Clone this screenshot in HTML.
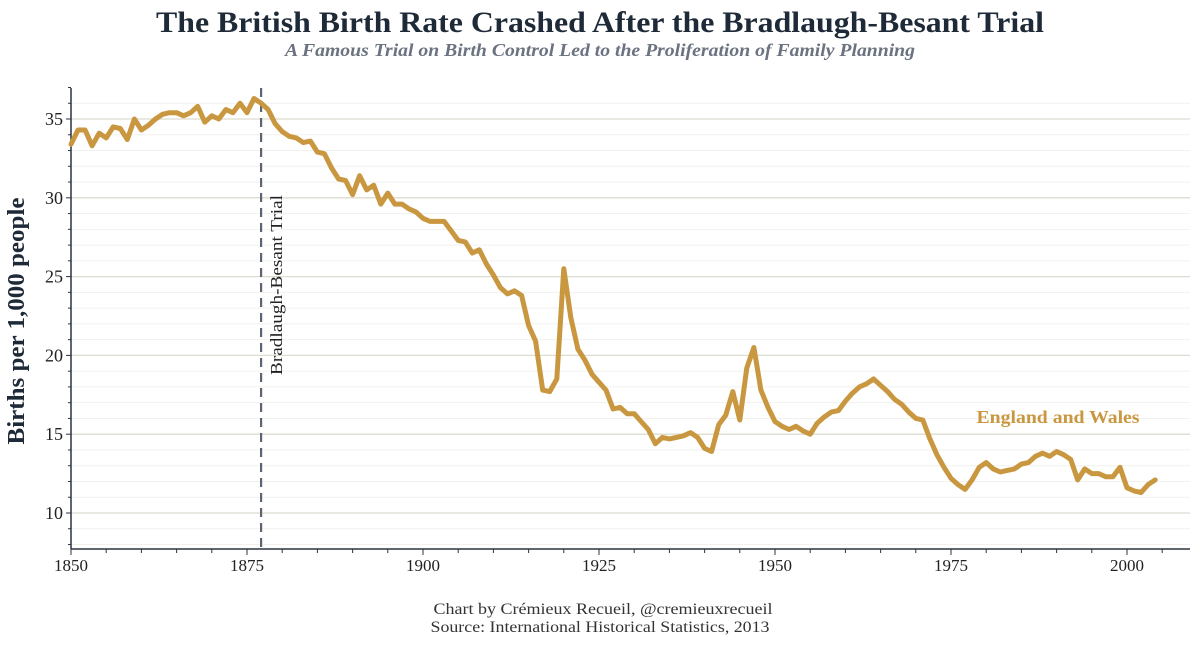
<!DOCTYPE html>
<html><head><meta charset="utf-8"><style>
html,body{margin:0;padding:0;background:#fff;}
svg{display:block;font-family:"Liberation Serif",serif;}
</style></head><body>
<svg id="chart" width="1200" height="645" viewBox="0 0 1200 645" xmlns="http://www.w3.org/2000/svg">
<text x="600" y="32" text-anchor="middle" font-size="30" font-weight="bold" fill="#1e2a38" textLength="888" lengthAdjust="spacingAndGlyphs">The British Birth Rate Crashed After the Bradlaugh-Besant Trial</text>
<text x="600" y="56" text-anchor="middle" font-size="18" font-style="italic" font-weight="bold" fill="#6b7280" textLength="630" lengthAdjust="spacingAndGlyphs">A Famous Trial on Birth Control Led to the Proliferation of Family Planning</text>
<g id="grid"></g>
<g id="axes"></g>
<g id="marks"></g>
<text x="0" y="0" transform="translate(24,321) rotate(-90)" text-anchor="middle" font-size="24" font-weight="bold" fill="#1e2a38" textLength="247" lengthAdjust="spacingAndGlyphs">Births per 1,000 people</text>
<text x="603" y="614" text-anchor="middle" font-size="16" fill="#333" textLength="339" lengthAdjust="spacingAndGlyphs">Chart by Crémieux Recueil, @cremieuxrecueil</text>
<text x="600" y="632" text-anchor="middle" font-size="16" fill="#333" textLength="339" lengthAdjust="spacingAndGlyphs">Source: International Historical Statistics, 2013</text>
</svg>
<script>
const startYear = 1850;
const birthRates = [33.4,34.3,34.3,33.3,34.1,33.8,34.5,34.4,33.7,35.0,
34.3,34.6,35.0,35.3,35.4,35.4,35.2,35.4,35.8,34.8,
35.2,35.0,35.6,35.4,36.0,35.4,36.3,36.0,35.6,34.7,
34.2,33.9,33.8,33.5,33.6,32.9,32.8,31.9,31.2,31.1,
30.2,31.4,30.5,30.8,29.6,30.3,29.6,29.6,29.3,29.1,
28.7,28.5,28.5,28.5,27.9,27.3,27.2,26.5,26.7,25.8,
25.1,24.3,23.9,24.1,23.8,21.9,20.9,17.8,17.7,18.5,
25.5,22.4,20.4,19.7,18.8,18.3,17.8,16.6,16.7,16.3,
16.3,15.8,15.3,14.4,14.8,14.7,14.8,14.9,15.1,14.8,
14.1,13.9,15.6,16.2,17.7,15.9,19.2,20.5,17.8,16.7,
15.8,15.5,15.3,15.5,15.2,15.0,15.7,16.1,16.4,16.5,
17.1,17.6,18.0,18.2,18.5,18.1,17.7,17.2,16.9,16.4,
16.0,15.9,14.7,13.7,12.9,12.2,11.8,11.5,12.1,12.9,
13.2,12.8,12.6,12.7,12.8,13.1,13.2,13.6,13.8,13.6,
13.9,13.7,13.4,12.1,12.8,12.5,12.5,12.3,12.3,12.9,
11.6,11.4,11.3,11.8,12.1];
const xTicks = [1850,1875,1900,1925,1950,1975,2000];
const yTicks = [10,15,20,25,30,35];
const trialYear = 1877;
const seriesLabel = "England and Wales";

const NS="http://www.w3.org/2000/svg";
const L=71,R=1190,T=88,B=549;
const x=v=>L+(v-1850)*7.04;
const y=v=>513-(v-10)*15.76;
function mk(tag,attrs,parent){const e=document.createElementNS(NS,tag);for(const k in attrs)e.setAttribute(k,attrs[k]);parent.appendChild(e);return e;}
const grid=document.getElementById('grid'),axes=document.getElementById('axes'),marks=document.getElementById('marks');
for(let v=8;v<=37;v++){
  if(y(v)<T||y(v)>B)continue;
  const major=yTicks.includes(v);
  const g=mk('line',{x1:L,x2:R,y1:y(v),y2:y(v),stroke:major?'#dcdccf':'#f1f1ee','stroke-width':major?1.3:1},grid);
  
  
}
let a=mk('line',{x1:L,x2:L,y1:T,y2:B,stroke:'#2b3440','stroke-width':1.5},axes);

a=mk('line',{x1:L,x2:R,y1:B,y2:B,stroke:'#2b3440','stroke-width':1.5},axes);

for(let v=8;v<=37;v++){const tl=mk('line',{x1:L-(yTicks.includes(v)?5:3),x2:L,y1:y(v),y2:y(v),stroke:'#2b3440'},axes);
}
yTicks.forEach(v=>{const t=mk('text',{x:L-8,y:y(v)+6,'text-anchor':'end','font-size':18,fill:'#222'},axes);t.textContent=v;
});
for(let v=1850;v<=2005;v+=5){const tl=mk('line',{x1:x(v),x2:x(v),y1:B,y2:B+(xTicks.includes(v)?6:4),stroke:'#2b3440'},axes);
}
xTicks.forEach(v=>{const t=mk('text',{x:x(v),y:B+22,'text-anchor':'middle','font-size':17,fill:'#222'},axes);t.textContent=v;
});
const dl=mk('line',{x1:x(trialYear),x2:x(trialYear),y1:T,y2:B,stroke:'#5a6472','stroke-width':2.2,'stroke-dasharray':'9,6'},marks);

const tt=mk('text',{transform:`translate(${x(trialYear)+21},375) rotate(-90)`,'font-size':17,fill:'#222',textLength:180,lengthAdjust:'spacingAndGlyphs'},marks);
tt.textContent='Bradlaugh-Besant Trial';

const pts=birthRates.map((v,i)=>x(startYear+i).toFixed(1)+','+y(v).toFixed(1)).join(' ');
const pl=mk('polyline',{points:pts,fill:'none',stroke:'#c9973f','stroke-width':5,'stroke-linejoin':'round','stroke-linecap':'round'},marks);

const lb=mk('text',{x:1058,y:423,'text-anchor':'middle','font-size':18,'font-weight':'bold',fill:'#c9973f',textLength:163,lengthAdjust:'spacingAndGlyphs'},marks);
lb.textContent=seriesLabel;

</script>
</body></html>
